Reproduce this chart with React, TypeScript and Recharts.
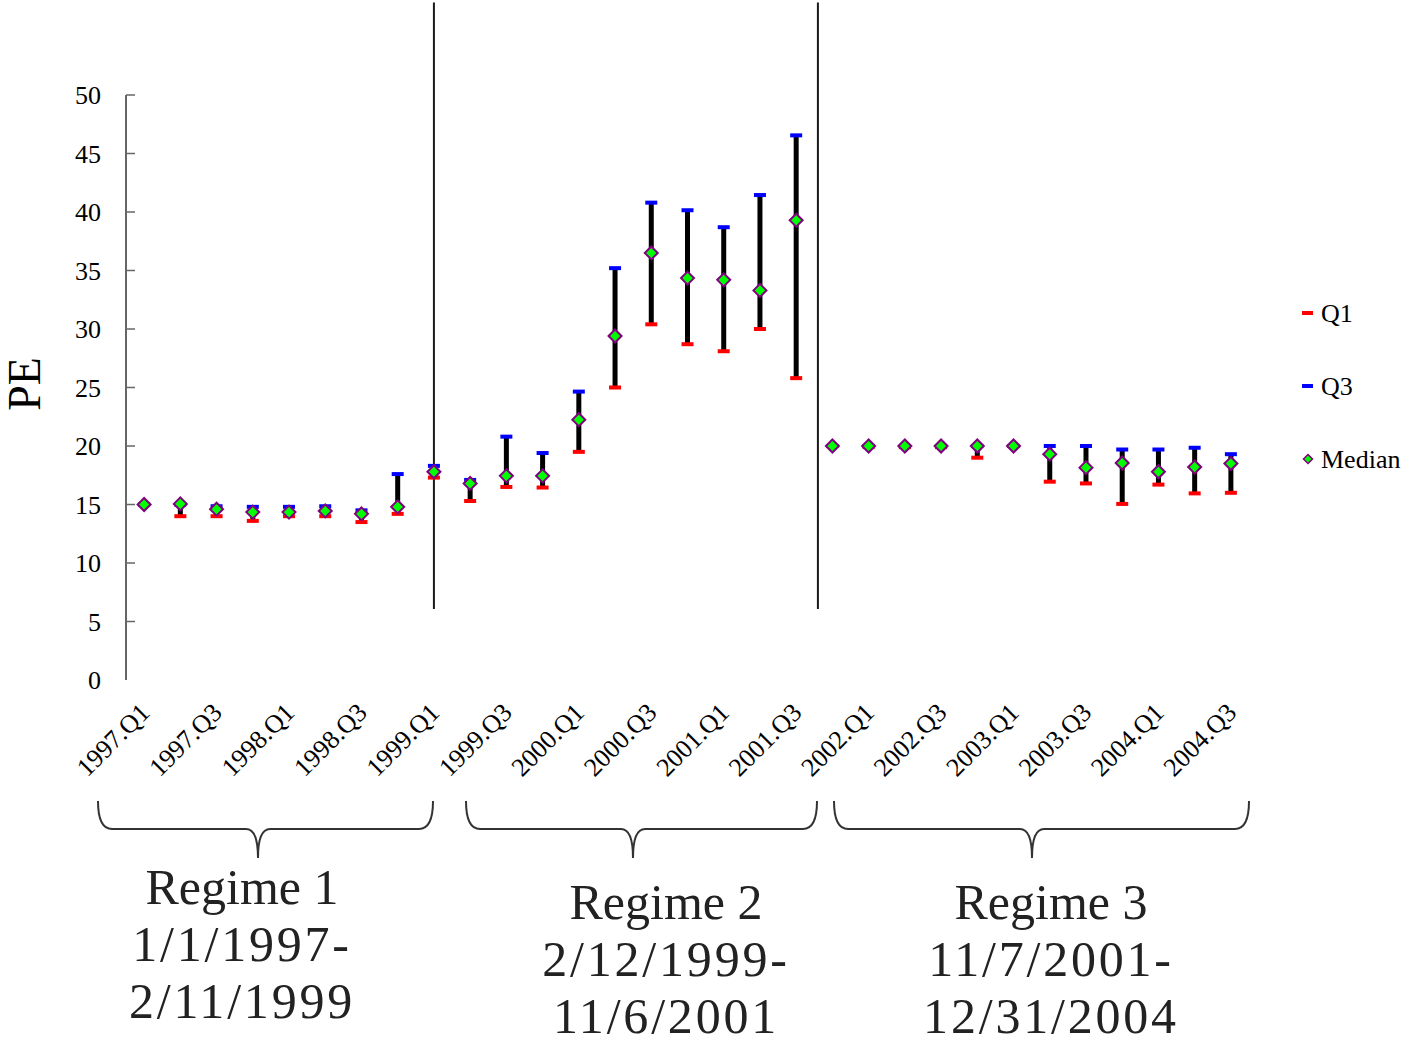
import React from 'react';
import { ComposedChart, Scatter, XAxis, YAxis, ErrorBar, ReferenceLine } from 'recharts';

const quarters = [
  '1997.Q1', '1997.Q2', '1997.Q3', '1997.Q4',
  '1998.Q1', '1998.Q2', '1998.Q3', '1998.Q4',
  '1999.Q1', '1999.Q2', '1999.Q3', '1999.Q4',
  '2000.Q1', '2000.Q2', '2000.Q3', '2000.Q4',
  '2001.Q1', '2001.Q2', '2001.Q3', '2001.Q4',
  '2002.Q1', '2002.Q2', '2002.Q3', '2002.Q4',
  '2003.Q1', '2003.Q2', '2003.Q3', '2003.Q4',
  '2004.Q1', '2004.Q2', '2004.Q3',
];

const q1Values = [
  15.0, 14.0, 14.0, 13.6, 14.0, 14.0, 13.5, 14.2,
  17.3, 15.3, 16.5, 16.45, 19.5, 25.0, 30.4, 28.7,
  28.1, 30.0, 25.8, 20.0, 19.9, 19.9, 19.9, 19.0,
  20.0, 16.95, 16.8, 15.05, 16.7, 15.95, 16.0,
];

const q3Values = [
  15.0, 15.0, 14.85, 14.8, 14.8, 14.85, 14.5, 17.6,
  18.3, 17.1, 20.8, 19.4, 24.65, 35.2, 40.8, 40.15,
  38.7, 41.45, 46.55, 20.0, 20.0, 20.0, 20.0, 20.0,
  20.0, 20.0, 20.0, 19.7, 19.7, 19.85, 19.3,
];

const medianValues = [
  15.0, 15.05, 14.6, 14.35, 14.35, 14.45, 14.2, 14.8,
  17.8, 16.8, 17.45, 17.45, 22.25, 29.4, 36.5, 34.35,
  34.2, 33.3, 39.3, 20.0, 20.0, 20.0, 20.0, 20.0,
  20.0, 19.3, 18.15, 18.55, 17.8, 18.2, 18.5,
];

const yTicks = [0, 5, 10, 15, 20, 25, 30, 35, 40, 45, 50];
const labelTickIndices = [0, 2, 4, 6, 8, 10, 12, 14, 16, 18, 20, 22, 24, 26, 28, 30];
const regimeBoundaries = [8, 18.6];

const regimeTexts = [
  ['Regime 1', '1/1/1997-', '2/11/1999'],
  ['Regime 2', '2/12/1999-', '11/6/2001'],
  ['Regime 3', '11/7/2001-', '12/31/2004'],
];

const legendItems = ['Q1', 'Q3', 'Median'];

const rows = quarters.map((q, i) => ({
  i,
  label: q,
  q1: q1Values[i],
  q3: q3Values[i],
  median: medianValues[i],
  err: [medianValues[i] - q1Values[i], q3Values[i] - medianValues[i]],
}));

const boundaryTicks = quarters.map((_, i) => i - 0.5).concat([quarters.length - 0.5]);

const FONT = '"Liberation Serif", "Times New Roman", serif';
const fontStyle = { fontFamily: FONT };

const YTick = (props: any) => {
  const { x, y, payload } = props;
  return (
    <g>
      {payload.value !== 0 && (
        <line x1={x} x2={x + 9} y1={y} y2={y} stroke="#666" strokeWidth={1.5} />
      )}
      <text x={x - 25} y={y} dy={9} textAnchor="end" fontSize={26} style={fontStyle} fill="#000">
        {payload.value}
      </text>
    </g>
  );
};

const XGridTick = (props: any) => {
  const { x, y } = props;
  return <line x1={x} x2={x} y1={y} y2={y - 8} stroke="#333" strokeWidth={1.5} />;
};

const XLabelTick = (props: any) => {
  const { x, y, payload } = props;
  const lbl = quarters[payload.value];
  const ax = x + 7;
  const ay = y + 34;
  return (
    <text
      x={ax}
      y={ay}
      transform={`rotate(-45 ${ax} ${ay})`}
      textAnchor="end"
      fontSize={26}
      style={fontStyle}
      fill="#000"
    >
      {lbl}
    </text>
  );
};

const Q1Shape = (props: any) => {
  const { cx, cy } = props;
  return <rect x={cx - 6} y={cy - 2} width={12} height={4} fill="#ff0000" />;
};

const Q3Shape = (props: any) => {
  const { cx, cy } = props;
  return <rect x={cx - 6} y={cy - 2} width={12} height={4} fill="#0000ff" />;
};

const MedianShape = (props: any) => {
  const { cx, cy } = props;
  return (
    <path
      d={`M ${cx} ${cy - 6.5} L ${cx + 6.5} ${cy} L ${cx} ${cy + 6.5} L ${cx - 6.5} ${cy} Z`}
      fill="#00ff00"
      stroke="#800080"
      strokeWidth={2}
    />
  );
};

const EmptyShape = () => <g />;

const Brace = ({ x1, x2, tip }: { x1: number; x2: number; tip: number }) => {
  const top = 801;
  const mid = 829;
  const bot = 858;
  const d = `M ${x1} ${top} Q ${x1} ${mid} ${x1 + 14} ${mid} L ${tip - 12} ${mid} Q ${tip} ${mid} ${tip} ${bot} Q ${tip} ${mid} ${tip + 12} ${mid} L ${x2 - 14} ${mid} Q ${x2} ${mid} ${x2} ${top}`;
  return <path d={d} fill="none" stroke="#333" strokeWidth={2} />;
};

const braces = [
  { x1: 98, x2: 433, tip: 258 },
  { x1: 466, x2: 817, tip: 633 },
  { x1: 834, x2: 1249, tip: 1032 },
];
const regimeTextPos = [
  { x: 242, y: 904 },
  { x: 666, y: 919 },
  { x: 1051, y: 919 },
];

export default function App() {
  return (
    <div style={{ position: 'absolute', left: 0, top: 0, width: 1410, height: 1045, background: '#fff' }}>
      <ComposedChart
        width={1410}
        height={1045}
        data={rows}
        margin={{ top: 95, right: 161, bottom: 245, left: 0 }}
        style={fontStyle}
      >
        <XAxis
          xAxisId="grid"
          type="number"
          dataKey="i"
          domain={[-0.5, 30.5]}
          ticks={boundaryTicks}
          interval={0}
          height={0}
          tickSize={0}
          tickMargin={0}
          tickLine={false}
          axisLine={{ stroke: '#222', strokeWidth: 2 }}
          tick={<XGridTick />}
        />
        <XAxis
          xAxisId="lab"
          type="number"
          dataKey="i"
          domain={[-0.5, 30.5]}
          ticks={labelTickIndices}
          interval={0}
          height={120}
          tickSize={0}
          tickMargin={0}
          tickLine={false}
          axisLine={false}
          tick={<XLabelTick />}
        />
        <YAxis
          type="number"
          domain={[0, 50]}
          ticks={yTicks}
          interval={0}
          width={126}
          tickSize={0}
          tickMargin={0}
          tickLine={false}
          axisLine={{ stroke: '#666', strokeWidth: 2 }}
          tick={<YTick />}
          allowDataOverflow
        />
        {regimeBoundaries.map((b) => (
          <ReferenceLine
            key={b}
            xAxisId="lab"
            segment={[{ x: b, y: 6.07 }, { x: b, y: 57.9 }]}
            ifOverflow="visible"
            stroke="#1a1a1a"
            strokeWidth={2}
          />
        ))}
        <Scatter xAxisId="lab" data={rows} dataKey="median" shape={<EmptyShape />} isAnimationActive={false}>
          <ErrorBar dataKey="err" direction="y" width={0} stroke="#000" strokeWidth={5} isAnimationActive={false} />
        </Scatter>
        <Scatter xAxisId="lab" data={rows} dataKey="q1" shape={<Q1Shape />} isAnimationActive={false} />
        <Scatter xAxisId="lab" data={rows} dataKey="q3" shape={<Q3Shape />} isAnimationActive={false} />
        <Scatter xAxisId="lab" data={rows} dataKey="median" shape={<MedianShape />} isAnimationActive={false} />
      </ComposedChart>
      <svg
        width={1410}
        height={1045}
        style={{ position: 'absolute', left: 0, top: 0, pointerEvents: 'none' }}
      >
        <text transform="translate(40 384) rotate(-90)" textAnchor="middle" fontSize={46} style={fontStyle} fill="#000">
          PE
        </text>
        {legendItems.map((name, k) => {
          const cy = 313 + k * 73;
          return (
            <g key={name}>
              {k === 0 && <rect x={1302} y={cy - 2} width={11} height={4} fill="#ff0000" />}
              {k === 1 && <rect x={1302} y={cy - 2} width={11} height={4} fill="#0000ff" />}
              {k === 2 && (
                <path
                  d={`M 1308 ${cy - 4.5} L 1312.5 ${cy} L 1308 ${cy + 4.5} L 1303.5 ${cy} Z`}
                  fill="#00ff00"
                  stroke="#800080"
                  strokeWidth={1.5}
                />
              )}
              <text x={1321} y={cy + 9} fontSize={26} style={fontStyle} fill="#000">
                {name}
              </text>
            </g>
          );
        })}
        {braces.map((b, k) => (
          <Brace key={k} x1={b.x1} x2={b.x2} tip={b.tip} />
        ))}
        {regimeTexts.map((lines, k) => (
          <text key={k} textAnchor="middle" fontSize={50} style={fontStyle} fill="#222">
            {lines.map((ln, j) => (
              <tspan
                key={j}
                x={regimeTextPos[k].x}
                y={regimeTextPos[k].y + j * 57}
                letterSpacing={j === 0 ? 0 : 2.8}
              >
                {ln}
              </tspan>
            ))}
          </text>
        ))}
      </svg>
    </div>
  );
}
